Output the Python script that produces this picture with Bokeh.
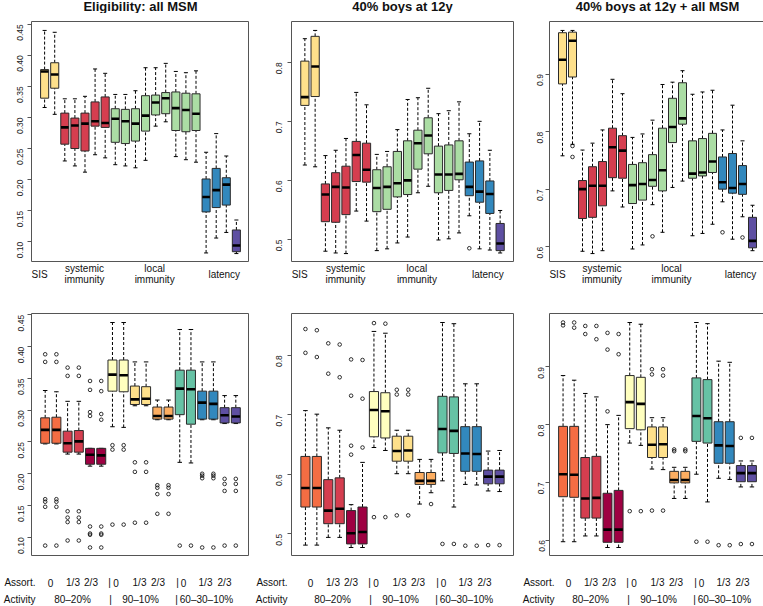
import math
from bokeh.plotting import figure
from bokeh.layouts import column, row
from bokeh.models import Label, FixedTicker, PrintfTickFormatter, Range1d
from bokeh.embed import file_html
from bokeh.resources import INLINE

FONT = "Liberation Sans"

# ---------------- texts ----------------
titles = ["Eligibility: all MSM", "40% boys at 12y", "40% boys at 12y + all MSM"]
top_group_labels = [["SIS"], ["systemic", "immunity"], ["local", "immunity"], ["latency"]]
top_group_label_x = [0.5, 4.95, 11.9, 18.8]
assort_head = "Assort."
activity_head = "Activity"
assort_labels = ["0", "1/3", "2/3", "|", "0", "1/3", "2/3", "|", "0", "1/3", "2/3"]
activity_labels = ["80\u201320%", "|", "90\u201310%", "|", "60\u201330\u201310%"]

# ---------------- colours ----------------
top_sizes = [2, 5, 9, 3, 1]
top_palette = ["#FEE08B", "#D53E4F", "#ABDDA4", "#3288BD", "#5E4FA2"]
bottom_palette = ["#F46D43", "#D53E4F", "#9E0142", "#FFFFBF", "#FEE08B",
                  "#FDAE61", "#66C2A5", "#3288BD", "#5E4FA2"]
top_colors = [c for c, n in zip(top_palette, top_sizes) for _ in range(n)]
bottom_colors = [c for c in bottom_palette for _ in range(2)]

# ---------------- data: top-left ----------------
p1_hi = [0.440, 0.437, 0.330, 0.330, 0.334, 0.378, 0.371, 0.337, 0.337, 0.343,
         0.380, 0.380, 0.387, 0.374, 0.372, 0.375, 0.244, 0.274, 0.238, 0.135]
p1_q3 = [0.377, 0.388, 0.307, 0.299, 0.307, 0.325, 0.333, 0.314, 0.313, 0.314,
         0.335, 0.336, 0.340, 0.341, 0.339, 0.338, 0.201, 0.218, 0.203, 0.119]
p1_med = [0.374, 0.369, 0.284, 0.287, 0.290, 0.294, 0.291, 0.298, 0.294, 0.290,
          0.303, 0.324, 0.331, 0.315, 0.312, 0.306, 0.172, 0.183, 0.192, 0.094]
p1_q1 = [0.331, 0.347, 0.257, 0.250, 0.246, 0.286, 0.284, 0.260, 0.258, 0.262,
         0.278, 0.304, 0.306, 0.279, 0.277, 0.279, 0.148, 0.155, 0.159, 0.084]
p1_lo = [0.316, 0.305, 0.230, 0.222, 0.212, 0.240, 0.235, 0.224, 0.222, 0.219,
         0.231, 0.286, 0.293, 0.237, 0.232, 0.228, 0.082, 0.106, 0.115, 0.081]
p1_out = [[] for _ in range(20)]

# ---------------- data: top-middle ----------------
p2_hi = [0.840, 0.854, 0.642, 0.651, 0.671, 0.749, 0.728, 0.644, 0.649, 0.686,
         0.737, 0.740, 0.756, 0.713, 0.718, 0.733, 0.679, 0.700, 0.651, 0.549]
p2_q3 = [0.802, 0.844, 0.594, 0.613, 0.624, 0.666, 0.663, 0.618, 0.623, 0.649,
         0.667, 0.685, 0.706, 0.658, 0.660, 0.667, 0.631, 0.633, 0.599, 0.527]
p2_med = [0.741, 0.793, 0.576, 0.589, 0.588, 0.643, 0.618, 0.587, 0.589, 0.595,
          0.600, 0.663, 0.676, 0.610, 0.610, 0.611, 0.589, 0.581, 0.577, 0.493]
p2_q1 = [0.727, 0.742, 0.530, 0.529, 0.542, 0.598, 0.597, 0.547, 0.551, 0.572,
         0.576, 0.619, 0.645, 0.579, 0.583, 0.601, 0.574, 0.563, 0.544, 0.481]
p2_lo = [0.626, 0.623, 0.480, 0.477, 0.476, 0.548, 0.531, 0.481, 0.484, 0.494,
         0.504, 0.579, 0.590, 0.499, 0.501, 0.511, 0.540, 0.484, 0.482, 0.477]
p2_out = [[], [], [], [], [], [], [], [], [], [],
          [], [], [], [], [], [], [0.485], [], [], []]

# ---------------- data: top-right ----------------
p3_hi = [0.976, 0.976, 0.768, 0.780, 0.803, 0.891, 0.866, 0.790, 0.796, 0.820,
         0.882, 0.886, 0.906, 0.865, 0.869, 0.872, 0.803, 0.846, 0.784, 0.672]
p3_q3 = [0.972, 0.973, 0.715, 0.739, 0.748, 0.806, 0.793, 0.743, 0.746, 0.760,
         0.806, 0.858, 0.885, 0.784, 0.788, 0.797, 0.756, 0.762, 0.741, 0.651]
p3_med = [0.925, 0.958, 0.700, 0.706, 0.706, 0.773, 0.767, 0.707, 0.709, 0.716,
          0.733, 0.808, 0.823, 0.727, 0.729, 0.748, 0.712, 0.702, 0.709, 0.610]
p3_q1 = [0.883, 0.895, 0.649, 0.651, 0.671, 0.720, 0.719, 0.675, 0.681, 0.705,
         0.697, 0.781, 0.813, 0.719, 0.723, 0.729, 0.700, 0.693, 0.691, 0.598]
p3_lo = [0.758, 0.778, 0.592, 0.588, 0.593, 0.697, 0.669, 0.596, 0.603, 0.673,
         0.625, 0.703, 0.714, 0.619, 0.623, 0.639, 0.678, 0.613, 0.652, 0.593]
p3_out = [[], [0.775, 0.756], [], [], [], [], [], [], [], [0.618],
          [], [], [], [], [], [], [0.625], [], [0.616], []]

# ---------------- data: bottom-left ----------------
p4_hi = [0.331, 0.329, 0.314, 0.314, 0.240, 0.240, 0.438, 0.438, 0.376,
         0.376, 0.316, 0.316, 0.427, 0.427, 0.376, 0.376, 0.323, 0.323]
p4_q3 = [0.288, 0.289, 0.267, 0.268, 0.240, 0.240, 0.379, 0.379, 0.338,
         0.337, 0.305, 0.305, 0.363, 0.363, 0.330, 0.330, 0.304, 0.304]
p4_med = [0.269, 0.269, 0.248, 0.251, 0.230, 0.229, 0.356, 0.355, 0.317,
          0.318, 0.291, 0.291, 0.334, 0.333, 0.312, 0.310, 0.292, 0.290]
p4_q1 = [0.248, 0.248, 0.234, 0.234, 0.215, 0.215, 0.330, 0.329, 0.309,
         0.309, 0.286, 0.286, 0.293, 0.278, 0.286, 0.286, 0.280, 0.280]
p4_lo = [0.247, 0.247, 0.231, 0.231, 0.212, 0.212, 0.274, 0.273, 0.307,
         0.307, 0.285, 0.285, 0.218, 0.217, 0.285, 0.285, 0.279, 0.279]
p4_out = [[0.388, 0.376, 0.160, 0.156, 0.148, 0.087],
          [0.388, 0.376, 0.160, 0.156, 0.148, 0.087],
          [0.367, 0.354, 0.141, 0.131, 0.124, 0.095],
          [0.367, 0.354, 0.141, 0.131, 0.124, 0.095],
          [0.346, 0.332, 0.297, 0.291, 0.117, 0.106, 0.104, 0.084],
          [0.346, 0.330, 0.294, 0.285, 0.117, 0.106, 0.104, 0.084],
          [0.245, 0.238, 0.120],
          [0.245, 0.238, 0.120],
          [0.218, 0.203, 0.123],
          [0.218, 0.203, 0.123],
          [0.182, 0.178, 0.168, 0.137],
          [0.182, 0.178, 0.168, 0.137],
          [0.087],
          [0.087],
          [0.200, 0.197, 0.193, 0.084],
          [0.200, 0.197, 0.193, 0.084],
          [0.192, 0.184, 0.173, 0.087],
          [0.192, 0.184, 0.173, 0.087]]

# ---------------- data: bottom-middle ----------------
p5_hi = [0.707, 0.701, 0.678, 0.674, 0.549, 0.620, 0.840, 0.837, 0.674,
         0.674, 0.625, 0.625, 0.855, 0.853, 0.752, 0.752, 0.639, 0.640]
p5_q3 = [0.630, 0.630, 0.591, 0.594, 0.539, 0.545, 0.739, 0.737, 0.664,
         0.664, 0.603, 0.603, 0.731, 0.730, 0.680, 0.680, 0.607, 0.607]
p5_med = [0.577, 0.577, 0.539, 0.542, 0.501, 0.503, 0.708, 0.706, 0.639,
          0.640, 0.589, 0.589, 0.676, 0.673, 0.635, 0.634, 0.596, 0.596]
p5_q1 = [0.545, 0.545, 0.517, 0.517, 0.483, 0.483, 0.663, 0.661, 0.622,
         0.622, 0.583, 0.583, 0.636, 0.635, 0.605, 0.605, 0.584, 0.584]
p5_lo = [0.481, 0.481, 0.494, 0.494, 0.477, 0.477, 0.645, 0.640, 0.601,
         0.601, 0.550, 0.569, 0.589, 0.545, 0.583, 0.582, 0.572, 0.571]
p5_out = [[0.844, 0.804], [0.842, 0.797],
          [0.820, 0.769], [0.818, 0.763],
          [0.793, 0.732, 0.648, 0.633], [0.792, 0.727, 0.645],
          [0.854, 0.528], [0.853, 0.528],
          [0.742, 0.734, 0.531], [0.742, 0.734, 0.531],
          [], [0.550],
          [0.483], [0.483],
          [0.480], [0.480],
          [0.481], [0.481]]

# ---------------- data: bottom-right ----------------
p6_hi = [0.885, 0.877, 0.854, 0.848, 0.800, 0.816, 0.977, 0.974, 0.812,
         0.812, 0.726, 0.726, 0.977, 0.975, 0.910, 0.908, 0.737, 0.737]
p6_q3 = [0.797, 0.797, 0.743, 0.745, 0.681, 0.686, 0.885, 0.882, 0.796,
         0.796, 0.719, 0.719, 0.881, 0.878, 0.805, 0.805, 0.729, 0.729]
p6_med = [0.714, 0.713, 0.672, 0.673, 0.618, 0.618, 0.839, 0.836, 0.765,
          0.766, 0.704, 0.704, 0.815, 0.811, 0.764, 0.763, 0.716, 0.716]
p6_q1 = [0.675, 0.674, 0.638, 0.638, 0.596, 0.596, 0.793, 0.791, 0.743,
         0.743, 0.699, 0.699, 0.771, 0.768, 0.733, 0.733, 0.701, 0.701]
p6_lo = [0.597, 0.597, 0.607, 0.607, 0.587, 0.587, 0.768, 0.764, 0.723,
         0.722, 0.672, 0.672, 0.714, 0.666, 0.707, 0.705, 0.692, 0.692]
p6_out = [[0.977, 0.972], [0.977, 0.968],
          [0.971, 0.957], [0.971, 0.948],
          [0.959, 0.930, 0.823], [0.957, 0.922],
          [0.650], [0.650],
          [0.896, 0.887, 0.651], [0.896, 0.885, 0.651],
          [0.757, 0.754], [0.757, 0.754],
          [0.597], [0.597],
          [0.591], [0.591],
          [0.777, 0.593], [0.777, 0.593]]

ticks_a = [0.10, 0.15, 0.20, 0.25, 0.30, 0.35, 0.40, 0.45]
ticks_b = [0.5, 0.6, 0.7, 0.8]
ticks_c = [0.6, 0.7, 0.8, 0.9]

# ---------------- layout (pixels) ----------------
COLS = [(28, 218, 3), (37, 222, 4), (32, 216, 0)]   # border-left, frame width, border-right
PANEL_ROWS = [(8, 241), (17, 243)]                  # border-top, frame height
TITLE_H = 13
TOPLAB_H = 34
BOTLAB_H = 49
YSTAND = [[7, 8, 5], [6, 8, 4]]
HEAD_STAND = [-4, 4, -5]       # right edge of "Assort."/"Activity" relative to frame
ASSORT_PX = [19, 41.5, 59.5, 78, 84.5, 108, 126.5, 146, 152, 174, 193]
ACTIVITY_PX = [41, 79, 109, 145, 175]
ROW_Y = [26, 43]


def make_strip(col, height, heads=False):
    bl, fw, br = COLS[col]
    s = figure(frame_width=fw, frame_height=height,
               x_range=Range1d(0, fw), y_range=Range1d(height, 0),
               min_border_left=bl, min_border_right=br,
               min_border_top=0, min_border_bottom=0,
               x_axis_location=None, y_axis_location="left" if heads else None,
               output_backend="svg", toolbar_location=None, title=None,
               background_fill_color="white", border_fill_color="white",
               outline_line_color=None)
    s.xgrid.visible = False
    s.ygrid.visible = False
    if heads:
        ax = s.yaxis[0]
        ax.ticker = FixedTicker(ticks=ROW_Y)
        ax.major_label_overrides = {ROW_Y[0]: assort_head, ROW_Y[1]: activity_head}
        ax.axis_line_color = None
        ax.major_tick_line_color = None
        ax.minor_tick_line_color = None
        ax.major_tick_out = 0
        ax.major_tick_in = 0
        ax.major_label_standoff = HEAD_STAND[col]
        ax.major_label_text_font = FONT
        ax.major_label_text_font_size = "10px"
        ax.major_label_text_color = "#111111"
    return s


def lab(s, x, y, t, size="10px", align="center", style="normal"):
    s.add_layout(Label(x=x, y=y, text=t, text_font=FONT, text_font_size=size,
                       text_align=align, text_baseline="middle",
                       text_color="#111111", text_font_style=style))


def make_panel(row_i, col, lo, q1, med, q3, hi, out, colors, ticks, fmt):
    bl, fw, br = COLS[col]
    bt, fh = PANEL_ROWS[row_i]
    n = len(med)
    xr = (0.5 - 0.04 * n, n + 0.5 + 0.04 * n)
    vals = lo + hi + [v for o in out for v in o]
    vmin, vmax = min(vals), max(vals)
    pad = 0.04 * (vmax - vmin)
    yr = (vmin - pad, vmax + pad)
    p = figure(frame_width=fw, frame_height=fh,
               x_range=Range1d(*xr), y_range=Range1d(*yr),
               min_border_left=bl, min_border_right=br,
               min_border_top=bt, min_border_bottom=0,
               output_backend="svg", toolbar_location=None, title=None,
               background_fill_color="white", border_fill_color="white",
               outline_line_color="#555555", outline_line_width=1)
    p.xaxis.visible = False
    p.xgrid.visible = False
    p.ygrid.visible = False
    ax = p.yaxis[0]
    ax.ticker = FixedTicker(ticks=ticks)
    ax.formatter = PrintfTickFormatter(format=fmt)
    ax.major_label_orientation = math.pi / 2
    ax.axis_line_color = None
    ax.major_tick_line_color = "#555555"
    ax.major_tick_line_width = 1
    ax.minor_tick_line_color = None
    ax.major_tick_out = 4
    ax.major_tick_in = 0
    ax.major_label_standoff = YSTAND[row_i][col]
    ax.major_label_text_font = FONT
    ax.major_label_text_font_size = "8.5px"
    ax.major_label_text_color = "#222222"

    xs = list(range(1, n + 1))
    p.segment(xs, q3, xs, hi, line_color="black", line_width=1, line_dash="3 2")
    p.segment(xs, lo, xs, q1, line_color="black", line_width=1, line_dash="3 2")
    p.segment([x - 0.2 for x in xs], hi, [x + 0.2 for x in xs], hi,
              line_color="black", line_width=1)
    p.segment([x - 0.2 for x in xs], lo, [x + 0.2 for x in xs], lo,
              line_color="black", line_width=1)
    p.quad(left=[x - 0.4 for x in xs], right=[x + 0.4 for x in xs],
           bottom=q1, top=q3, fill_color=colors, line_color="#2a2a2a", line_width=1)
    p.segment([x - 0.38 for x in xs], med, [x + 0.38 for x in xs], med,
              line_color="black", line_width=2.6)
    ox = [x for x, o in zip(xs, out) for _ in o]
    oy = [v for o in out for v in o]
    if ox:
        p.scatter(ox, oy, marker="circle", size=3.6, fill_color=None,
                  line_color="black", line_width=0.8)
    return p, xr


def top_title_strip(col):
    s = make_strip(col, TITLE_H)
    bl, fw, br = COLS[col]
    lab(s, fw / 2, 6.3, titles[col], size="13px", style="bold")
    return s


def top_label_strip(col, xr):
    s = make_strip(col, TOPLAB_H)
    bl, fw, br = COLS[col]
    for lines, gx in zip(top_group_labels, top_group_label_x):
        px = (gx - xr[0]) * fw / (xr[1] - xr[0])
        if len(lines) == 1:
            lab(s, px, 11.5, lines[0])
        else:
            lab(s, px, 6, lines[0])
            lab(s, px, 17, lines[1])
    return s


def bottom_label_strip(col):
    s = make_strip(col, BOTLAB_H, heads=True)
    for t, px in zip(assort_labels, ASSORT_PX):
        lab(s, px, ROW_Y[0], t)
    for t, px in zip(activity_labels, ACTIVITY_PX):
        lab(s, px, ROW_Y[1], t)
    return s


f1, xr1 = make_panel(0, 0, p1_lo, p1_q1, p1_med, p1_q3, p1_hi, p1_out, top_colors, ticks_a, "%.2f")
f2, xr2 = make_panel(0, 1, p2_lo, p2_q1, p2_med, p2_q3, p2_hi, p2_out, top_colors, ticks_b, "%.1f")
f3, xr3 = make_panel(0, 2, p3_lo, p3_q1, p3_med, p3_q3, p3_hi, p3_out, top_colors, ticks_c, "%.1f")
f4, _ = make_panel(1, 0, p4_lo, p4_q1, p4_med, p4_q3, p4_hi, p4_out, bottom_colors, ticks_a, "%.2f")
f5, _ = make_panel(1, 1, p5_lo, p5_q1, p5_med, p5_q3, p5_hi, p5_out, bottom_colors, ticks_b, "%.1f")
f6, _ = make_panel(1, 2, p6_lo, p6_q1, p6_med, p6_q3, p6_hi, p6_out, bottom_colors, ticks_c, "%.1f")

cols = []
for c, (fa, fb, xr) in enumerate([(f1, f4, xr1), (f2, f5, xr2), (f3, f6, xr3)]):
    cols.append(column(top_title_strip(c), fa, top_label_strip(c, xr), fb,
                       bottom_label_strip(c), spacing=0))

page = row(*cols, spacing=0)

open("out.html", "w").write(file_html(page, INLINE))
